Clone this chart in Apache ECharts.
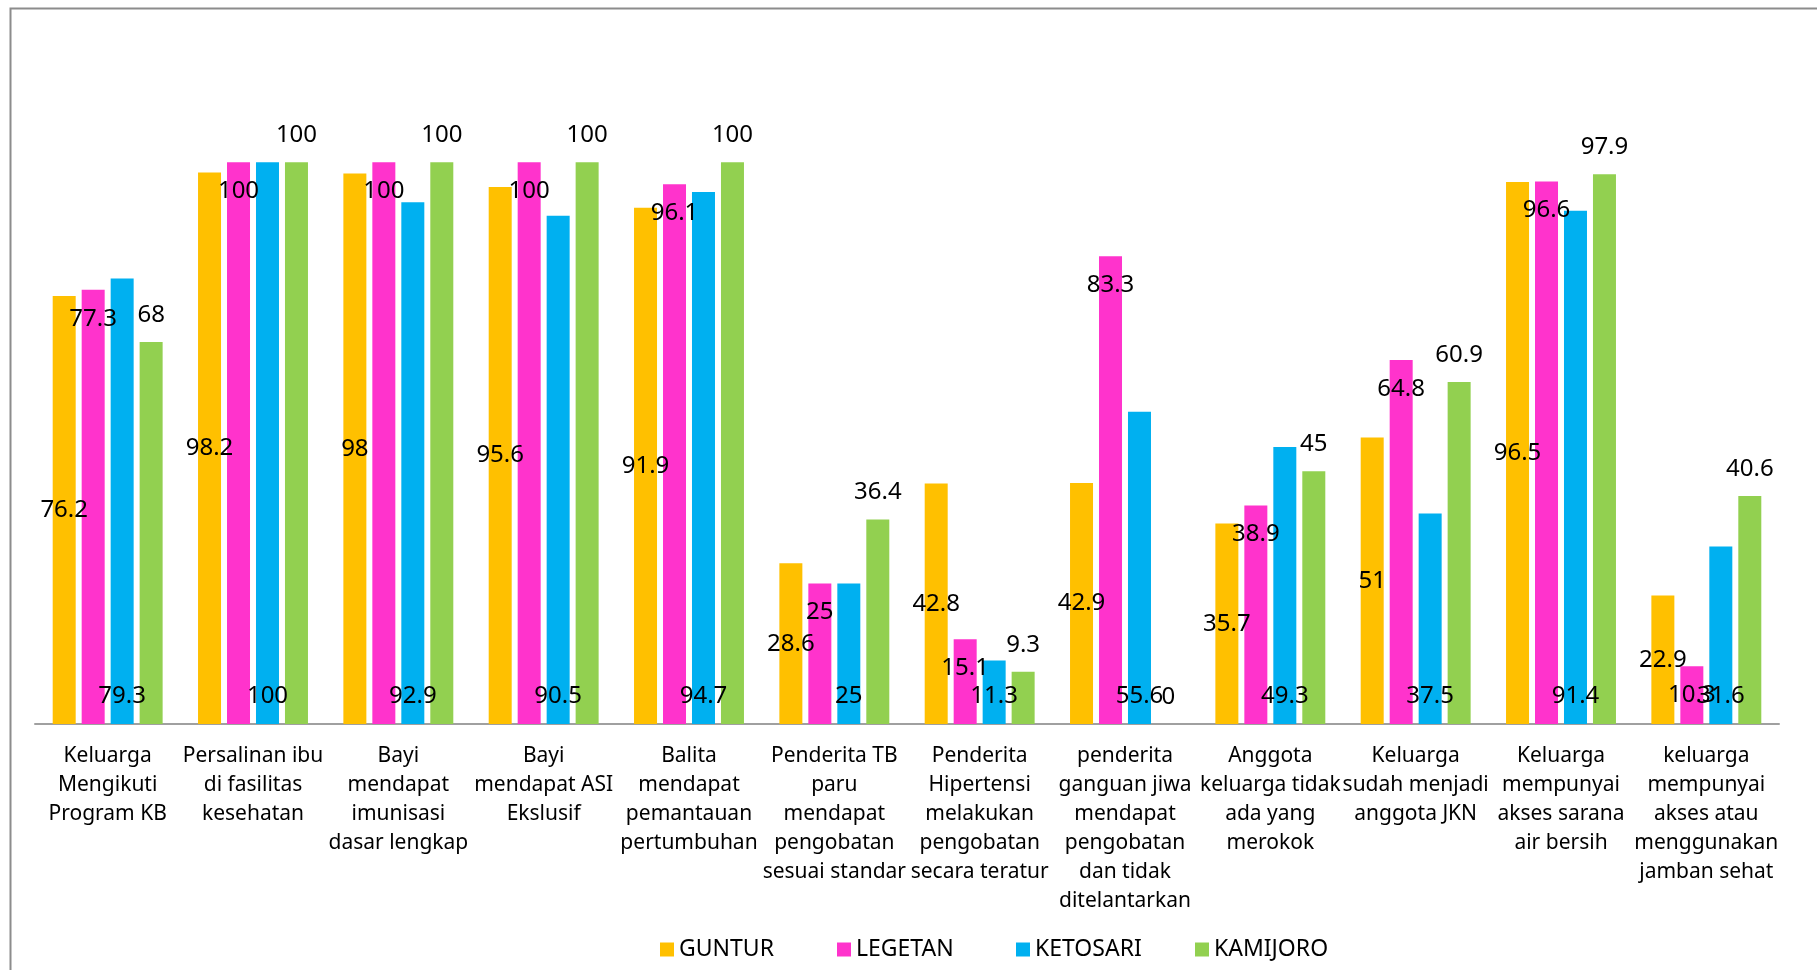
<!DOCTYPE html>
<html>
<head>
<meta charset="utf-8">
<script src="https://cdn.jsdelivr.net/npm/echarts@6/dist/echarts.min.js"></script>
<style>
html,body{margin:0;padding:0;background:#fff;}
#c{width:1817px;height:970px;}
</style>
</head>
<body>
<div id="c"></div>
<script>
const categories = [
  "Keluarga\nMengikuti\nProgram KB",
  "Persalinan ibu\ndi fasilitas\nkesehatan",
  "Bayi\nmendapat\nimunisasi\ndasar lengkap",
  "Bayi\nmendapat ASI\nEkslusif",
  "Balita\nmendapat\npemantauan\npertumbuhan",
  "Penderita TB\nparu\nmendapat\npengobatan\nsesuai standar",
  "Penderita\nHipertensi\nmelakukan\npengobatan\nsecara teratur",
  "penderita\nganguan jiwa\nmendapat\npengobatan\ndan tidak\nditelantarkan",
  "Anggota\nkeluarga tidak\nada yang\nmerokok",
  "Keluarga\nsudah menjadi\nanggota JKN",
  "Keluarga\nmempunyai\nakses sarana\nair bersih",
  "keluarga\nmempunyai\nakses atau\nmenggunakan\njamban sehat"
];
const seriesNames = ["GUNTUR", "LEGETAN", "KETOSARI", "KAMIJORO"];
const guntur   = [76.2, 98.2, 98, 95.6, 91.9, 28.6, 42.8, 42.9, 35.7, 51, 96.5, 22.9];
const legetan  = [77.3, 100, 100, 100, 96.1, 25, 15.1, 83.3, 38.9, 64.8, 96.6, 10.3];
const ketosari = [79.3, 100, 92.9, 90.5, 94.7, 25, 11.3, 55.6, 49.3, 37.5, 91.4, 31.6];
const kamijoro = [68, 100, 100, 100, 100, 36.4, 9.3, 0, 45, 60.9, 97.9, 40.6];

const FONT = "'Noto Sans', sans-serif";
const colors = ['#FFC000', '#FF33CC', '#00B0F0', '#92D050'];
const datasets = [guntur, legetan, ketosari, kamijoro];
const labelPos = [
  {position: 'inside', distance: 0},
  {position: 'insideTop', distance: 17},
  {position: 'insideBottom', distance: 16},
  {position: 'top', distance: 15}
];
const legendLefts = [655, 832, 1011, 1190];

const chart = echarts.init(document.getElementById('c'), null, {renderer: 'canvas'});
chart.setOption({
  animation: false,
  backgroundColor: '#fff',
  color: colors,
  graphic: [{
    type: 'rect', left: 8, top: 6, silent: true,
    shape: {x: 0, y: 0, width: 1840, height: 1000},
    style: {fill: 'none', stroke: '#8c8c8c', lineWidth: 2}
  }],
  legend: seriesNames.map((n, i) => ({
    data: [n],
    left: legendLefts[i], top: 933,
    itemWidth: 14, itemHeight: 14,
    icon: 'rect',
    textStyle: {fontFamily: FONT, fontSize: 23, color: '#000'}
  })),
  grid: {left: 35, right: 38, top: 50, bottom: 246, containLabel: false},
  xAxis: {
    type: 'category',
    data: categories,
    axisTick: {show: false},
    axisLine: {lineStyle: {color: '#a0a0a0', width: 2}},
    axisLabel: {interval: 0, margin: 18, fontFamily: FONT, fontSize: 21, lineHeight: 29, color: '#000'}
  },
  yAxis: {
    type: 'value', min: 0, max: 120,
    show: false, splitLine: {show: false}
  },
  series: datasets.map((d, i) => ({
    name: seriesNames[i],
    type: 'bar',
    data: d,
    barWidth: 23,
    barGap: '26%',
    itemStyle: {color: colors[i]},
    label: {
      show: true,
      position: labelPos[i].position,
      distance: labelPos[i].distance,
      fontFamily: FONT, fontSize: 24, color: '#000'
    }
  }))
});
</script>
</body>
</html>
